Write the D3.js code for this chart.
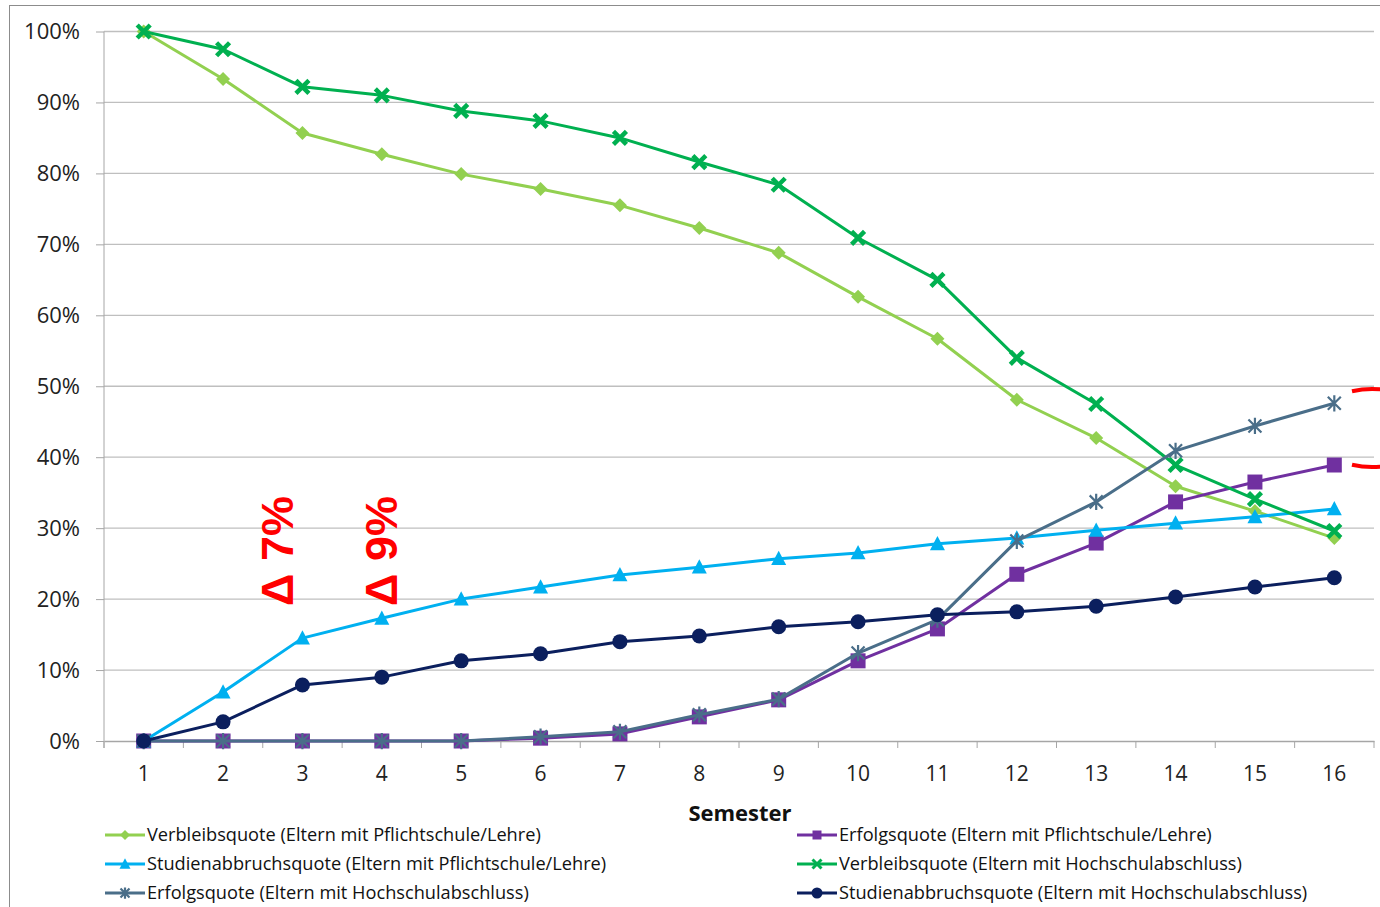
<!DOCTYPE html>
<html><head><meta charset="utf-8">
<script src="https://cdn.jsdelivr.net/npm/d3@7"></script>
<style>body{margin:0;background:#fff}svg{display:block}</style>
</head><body>
<svg id="c" width="1380" height="907"></svg>
<script>
const semesters = d3.range(1, 17);
const yTicks = [0,10,20,30,40,50,60,70,80,90,100];
const verbleibPflicht = [100,93.3,85.7,82.7,79.9,77.8,75.5,72.3,68.8,62.6,56.7,48.1,42.7,35.9,32.4,28.6];
const erfolgPflicht = [0,0,0,0,0,0.4,1.0,3.4,5.8,11.3,15.8,23.5,27.9,33.7,36.5,38.9];
const abbruchPflicht = [0,6.9,14.5,17.3,20.0,21.7,23.4,24.5,25.7,26.5,27.8,28.6,29.7,30.7,31.6,32.7];
const verbleibHoch = [100,97.5,92.2,91.0,88.8,87.4,85.0,81.6,78.4,70.9,65.0,54.0,47.5,38.9,34.1,29.6];
const erfolgHoch = [0,0,0,0,0,0.6,1.3,3.7,5.9,12.4,17.1,28.2,33.7,40.9,44.4,47.6];
const abbruchHoch = [0,2.7,7.9,9.0,11.3,12.3,14.0,14.8,16.1,16.8,17.8,18.2,19.0,20.3,21.7,23.0];
const annotationTexts = ["\u0394 7%", "\u0394 9%"];

const series = [
  {name:"Verbleibsquote (Eltern mit Pflichtschule/Lehre)", values:verbleibPflicht, color:"#92D050", marker:"diamond", col:0, row:0},
  {name:"Erfolgsquote (Eltern mit Pflichtschule/Lehre)", values:erfolgPflicht, color:"#7030A0", marker:"square", col:1, row:0},
  {name:"Studienabbruchsquote (Eltern mit Pflichtschule/Lehre)", values:abbruchPflicht, color:"#00B0F0", marker:"triangle", col:0, row:1},
  {name:"Verbleibsquote (Eltern mit Hochschulabschluss)", values:verbleibHoch, color:"#00B050", marker:"x", col:1, row:1},
  {name:"Erfolgsquote (Eltern mit Hochschulabschluss)", values:erfolgHoch, color:"#4A6E89", marker:"star", col:0, row:2},
  {name:"Studienabbruchsquote (Eltern mit Hochschulabschluss)", values:abbruchHoch, color:"#0B1F5E", marker:"circle", col:1, row:2}
];

const svg = d3.select("#c");
const pLeft = 104, pRight = 1374, pTop = 31.5, pBottom = 741;
const x = d3.scaleBand().domain(semesters).range([pLeft, pRight]);
const y = d3.scaleLinear().domain([0,100]).range([pBottom, pTop]);
const cx = d => x(d) + x.bandwidth()/2;

// outer frame
svg.append("rect").attr("x",9.5).attr("y",5.5).attr("width",1400).attr("height",1000)
  .attr("fill","none").attr("stroke","#8c8c8c").attr("stroke-width",1);

// gridlines
svg.append("g").selectAll("line").data(yTicks.filter(t=>t>0)).join("line")
  .attr("x1",pLeft).attr("x2",pRight).attr("y1",d=>y(d)).attr("y2",d=>y(d))
  .attr("stroke","#bfbfbf").attr("stroke-width",1.3);

// y axis
const yAxis = svg.append("g").attr("transform",`translate(${pLeft},0)`)
  .call(d3.axisLeft(y).tickValues(yTicks).tickFormat(d=>d+"%").tickSize(8).tickPadding(16));
yAxis.select(".domain").attr("stroke","#a6a6a6").attr("d",`M0,${pBottom+7}V${pTop}`);
yAxis.selectAll(".tick line").attr("stroke","#a6a6a6");
yAxis.selectAll("text").attr("font-family","Open Sans").attr("font-size",22).attr("fill","#222")
  .attr("textLength",null);

// x axis
const xAxis = svg.append("g").attr("transform",`translate(0,${pBottom})`)
  .call(d3.axisBottom(x).tickSize(0).tickPadding(25));
xAxis.select(".domain").attr("stroke","#a6a6a6").attr("stroke-width",1.3);
xAxis.selectAll("text").attr("font-family","Open Sans").attr("font-size",21).attr("fill","#222");
svg.append("g").selectAll("line").data(d3.range(0,17)).join("line")
  .attr("x1",i=>pLeft+i*x.step()).attr("x2",i=>pLeft+i*x.step())
  .attr("y1",pBottom).attr("y2",pBottom+7).attr("stroke","#a6a6a6");

svg.append("text").attr("x",740).attr("y",821).attr("text-anchor","middle")
  .attr("font-family","Open Sans").attr("font-weight","bold").attr("font-size",22).attr("fill","#111").text("Semester");

function markerPath(type, s) {
  switch(type) {
    case "diamond": return `M0,${-s}L${s},0L0,${s}L${-s},0Z`;
    case "square": return `M${-s},${-s}H${s}V${s}H${-s}Z`;
    case "triangle": return `M0,${-s*1.05}L${s},${s*0.85}L${-s},${s*0.85}Z`;
    case "x": return `M${-s},${-s}L${s},${s}M${-s},${s}L${s},${-s}`;
    case "star": return `M${-s},${-s}L${s},${s}M${-s},${s}L${s},${-s}M0,${-s*1.25}V${s*1.25}`;
  }
}
function drawMarker(g, type, color, big) {
  if (type === "circle") {
    g.append("circle").attr("r",big?7.5:5.5).attr("fill",color);
  } else if (type === "x") {
    g.append("path").attr("d",markerPath("x",big?6.5:4.5)).attr("stroke",color).attr("stroke-width",big?4.5:3).attr("fill","none");
  } else if (type === "star") {
    g.append("path").attr("d",markerPath("star",big?6.5:4.5)).attr("stroke",color).attr("stroke-width",2.2).attr("fill","none");
  } else {
    const s = type==="diamond" ? (big?7:5) : type==="square" ? (big?7.5:4.5) : (big?7.5:5.5);
    g.append("path").attr("d",markerPath(type,s)).attr("fill",color);
  }
}

const line = d3.line().x((d,i)=>cx(semesters[i])).y(d=>y(d));
series.forEach(s => {
  const g = svg.append("g");
  g.append("path").datum(s.values).attr("d",line).attr("fill","none")
    .attr("stroke",s.color).attr("stroke-width",3).attr("stroke-linejoin","round");
  g.selectAll("g.m").data(s.values).join("g").attr("class","m")
    .attr("transform",(d,i)=>`translate(${cx(semesters[i])},${y(d)})`)
    .each(function(){ drawMarker(d3.select(this), s.marker, s.color, true); });
});

// legend
const legX = [105, 797], legY = [835, 864, 893];
series.forEach(s => {
  const g = svg.append("g").attr("transform",`translate(${legX[s.col]},${legY[s.row]})`);
  g.append("line").attr("x1",0).attr("x2",40).attr("stroke",s.color).attr("stroke-width",3);
  const m = g.append("g").attr("transform","translate(20,0)");
  drawMarker(m, s.marker, s.color, false);
  g.append("text").attr("x",42).attr("y",0).attr("dy","0.35em")
    .attr("font-family","Open Sans").attr("font-size",18.2).attr("fill","#111").text(s.name);
});

// annotations (placed over semesters 3 and 4 area)
const annX = [277, 381];
annotationTexts.forEach((t, i) => {
  svg.append("text").attr("transform",`translate(${annX[i]},551) rotate(-90)`)
    .attr("text-anchor","middle").attr("dominant-baseline","central")
    .attr("font-family","Liberation Sans").attr("font-weight","bold").attr("font-size",45)
    .attr("fill","#FF0000").text(t);
});

// red ellipse fragments at right edge
const ex = 1372, ey = 428, rx = 60, ry = 39;
const ey1 = xx => ry*Math.sqrt(1-((xx-ex)/rx)**2);
svg.append("path").attr("d",`M1352,${ey-ey1(1352)} A${rx},${ry} 0 0 1 1395,${ey-ey1(1395)}`)
  .attr("fill","none").attr("stroke","#FF0000").attr("stroke-width",4);
svg.append("path").attr("d",`M1352,${ey+ey1(1352)} A${rx},${ry} 0 0 0 1395,${ey+ey1(1395)}`)
  .attr("fill","none").attr("stroke","#FF0000").attr("stroke-width",4);
</script>
</body></html>
